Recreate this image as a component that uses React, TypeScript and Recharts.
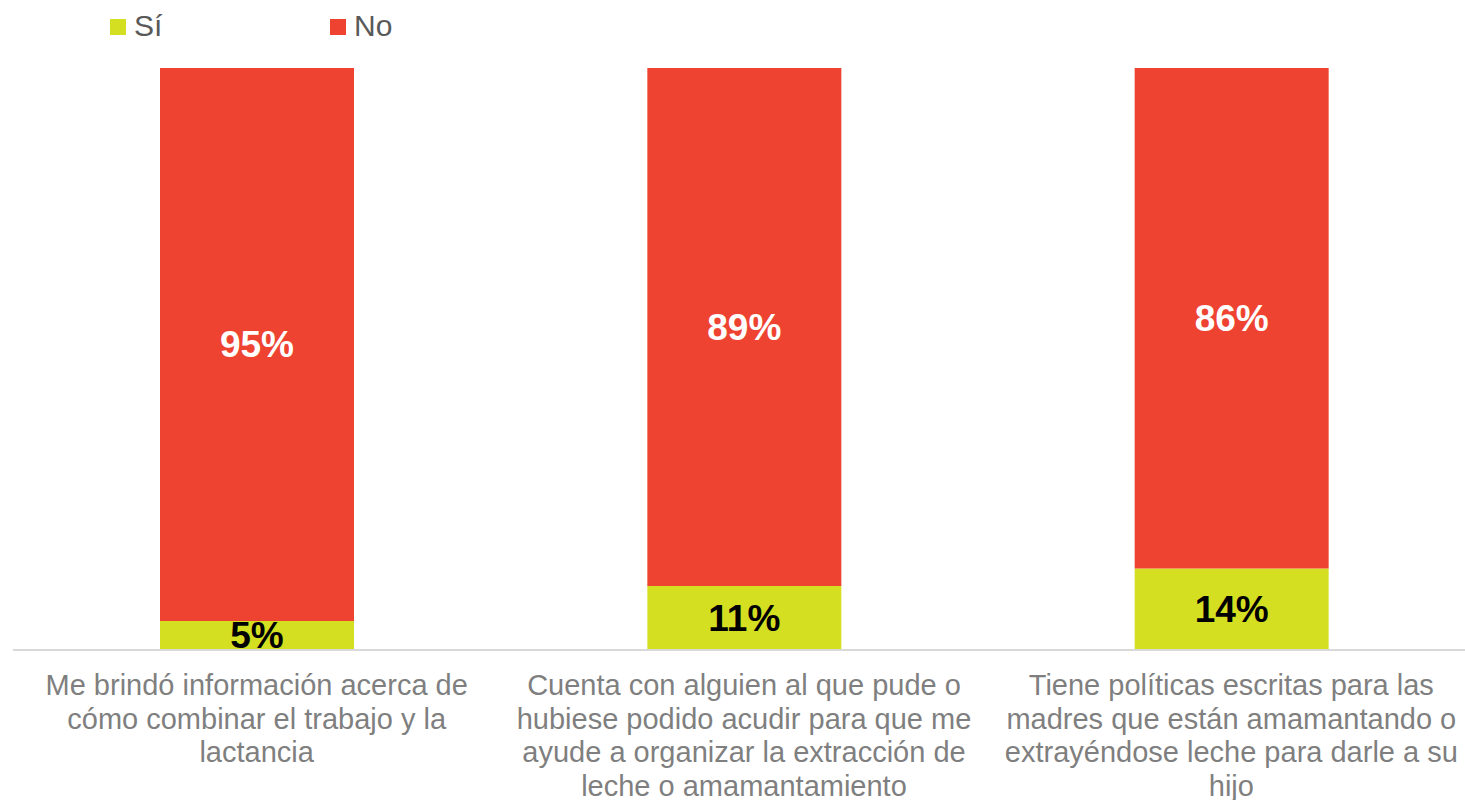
import { BarChart, Bar, XAxis, YAxis, LabelList } from "recharts";

const categories = [
    ["Me brindó información acerca de", "cómo combinar el trabajo y la", "lactancia"],
    ["Cuenta con alguien al que pude o", "hubiese podido acudir para que me", "ayude a organizar la extracción de", "leche o amamantamiento"],
    ["Tiene políticas escritas para las", "madres que están amamantando o", "extrayéndose leche para darle a su", "hijo"],
];
const siValues = [5, 11, 14];
const noValues = [95, 89, 86];
const legendLabels = ["Sí", "No"];

const SI_COLOR = "#D5DF21";
const NO_COLOR = "#EF4331";
const FONT = "Liberation Sans, Arial, sans-serif";

const data = categories.map((lines, i) => ({
    name: lines.join(" "),
    lines,
    si: siValues[i],
    no: noValues[i],
}));

function CategoryTick(props: any) {
    const { x, y, payload, index } = props;
    const lines: string[] = data[index]?.lines ?? [payload.value];
    return (
        <text x={x} y={y} textAnchor="middle" fill="#7F7F7F" fontSize={29} fontFamily={FONT}>
            {lines.map((l, i) => (
                <tspan key={i} x={x} y={y + 37 + i * 33.5}>{l}</tspan>
            ))}
        </text>
    );
}

function makeLabel(color: string, prefix: string) {
    return function ValueLabel(props: any) {
        const { x, y, width, height, value, index } = props;
        const id = `clip-${prefix}-${index}`;
        return (
            <g>
                <defs>
                    <clipPath id={id}>
                        <rect x={x} y={y - 40} width={width} height={height + 40} />
                    </clipPath>
                </defs>
                <text
                    x={x + width / 2}
                    y={y + height / 2}
                    dy="0.35em"
                    textAnchor="middle"
                    fill={color}
                    fontSize={37}
                    fontWeight="bold"
                    fontFamily={FONT}
                    clipPath={`url(#${id})`}
                >
                    {`${value}%`}
                </text>
            </g>
        );
    };
}

function ChartLegend() {
    const item = (left: number, color: string, label: string) => (
        <div key={label} style={{ position: "absolute", left, top: 0, height: 54 }}>
            <div style={{ position: "absolute", left: 0, top: 19, width: 16, height: 16, background: color }} />
            <span style={{ position: "absolute", left: 24, top: 9, fontSize: 30, lineHeight: "34px", color: "#595959", fontFamily: FONT, whiteSpace: "nowrap" }}>{label}</span>
        </div>
    );
    return (
        <div style={{ position: "absolute", left: 0, top: 0, width: 500, height: 54 }}>
            {item(110, SI_COLOR, legendLabels[0])}
            {item(330, NO_COLOR, legendLabels[1])}
        </div>
    );
}

export default function App() {
    return (
        <div style={{ position: "absolute", left: 0, top: 0, width: 1465, height: 800, overflow: "hidden", background: "#fff" }}>
            <BarChart width={1475} height={800} data={data} margin={{ top: 68, right: 0, left: 13, bottom: 0 }}>
                <XAxis
                    dataKey="name"
                    interval={0}
                    height={150}
                    tickLine={false}
                    axisLine={{ stroke: "#D9D9D9", strokeWidth: 2 }}
                    tick={<CategoryTick />}
                />
                <YAxis hide domain={[0, 100]} />
                <Bar dataKey="si" name="Sí" stackId="a" fill={SI_COLOR} barSize={194} isAnimationActive={false}>
                    <LabelList dataKey="si" content={makeLabel("#000000", "si")} />
                </Bar>
                <Bar dataKey="no" name="No" stackId="a" fill={NO_COLOR} barSize={194} isAnimationActive={false}>
                    <LabelList dataKey="no" content={makeLabel("#FFFFFF", "no")} />
                </Bar>
            </BarChart>
            <ChartLegend />
        </div>
    );
}
